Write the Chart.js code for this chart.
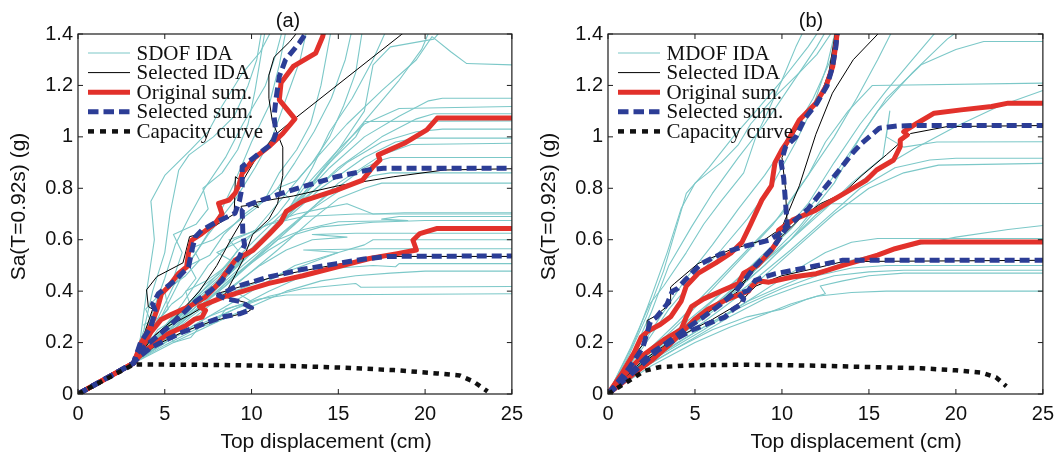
<!DOCTYPE html>
<html>
<head>
<meta charset="utf-8">
<script src="https://cdn.jsdelivr.net/npm/chart.js@4.4.1/dist/chart.umd.min.js"></script>
<style>
  html, body { margin:0; padding:0; background:#ffffff; }
  #wrap { position:relative; width:1062px; height:454px; overflow:hidden; background:#fff; }
  canvas { position:absolute; top:0; }
  #cA { left:0; }
  #cB { left:531px; }
</style>
</head>
<body>
<div id="wrap">
  <canvas id="cA" width="531" height="454"></canvas>
  <canvas id="cB" width="531" height="454"></canvas>
</div>
<script>
// ---------------- axis ticks & labels ----------------
const xTicks = [0, 5, 10, 15, 20, 25];
const xTickLabels = ['0', '5', '10', '15', '20', '25'];
const yTicks = [0, 0.2, 0.4, 0.6, 0.8, 1.0, 1.2, 1.4];
const yTickLabels = ['0', '0.2', '0.4', '0.6', '0.8', '1', '1.2', '1.4'];
const xAxisTitle = 'Top displacement (cm)';
const yAxisTitle = 'Sa(T=0.92s) (g)';
const panelTitles = ['(a)', '(b)'];
const legendLabelsA = ['SDOF IDA', 'Selected IDA', 'Original sum.', 'Selected sum.', 'Capacity curve'];
const legendLabelsB = ['MDOF IDA', 'Selected IDA', 'Original sum.', 'Selected sum.', 'Capacity curve'];

// ---------------- panel (a): SDOF ----------------
const sdofIda = [
  [[0,0],[3.2,0.12],[3.6,0.22],[4.0,0.42],[4.4,0.6],[4.2,0.75],[5.0,0.85],[6.5,0.95],[7.5,1.02],[8.3,1.12],[9.5,1.25],[10.5,1.33],[11.2,1.42]],
  [[0,0],[3.2,0.12],[3.8,0.25],[4.3,0.4],[5.0,0.55],[5.3,0.7],[5.8,0.87],[6.4,0.93],[7.8,1.0],[9.0,1.08],[9.8,1.2],[10.3,1.3],[10.6,1.42]],
  [[0,0],[3.2,0.12],[4.2,0.3],[5.0,0.45],[5.6,0.58],[6.5,0.7],[7.3,0.8],[8.5,0.92],[9.5,1.05],[10.8,1.2],[11.4,1.32],[11.8,1.42]],
  [[0,0],[3.2,0.12],[4.5,0.28],[5.5,0.42],[6.8,0.55],[8.0,0.68],[9.0,0.82],[10.0,0.98],[11.0,1.12],[11.6,1.28],[12.0,1.42]],
  [[0,0],[3.2,0.12],[4.8,0.3],[6.3,0.5],[7.5,0.62],[9.0,0.75],[10.2,0.88],[11.2,1.0],[12.0,1.15],[12.8,1.3],[13.2,1.42]],
  [[0,0],[3.2,0.12],[5.2,0.27],[7.5,0.4],[10,0.55],[12,0.7],[13.5,0.88],[14.5,1.02],[15.8,1.15],[17,1.3],[17.8,1.42]],
  [[0,0],[3.2,0.12],[5.5,0.28],[8,0.42],[10.5,0.58],[12.5,0.72],[14,0.86],[15.5,0.98],[17,1.1],[18.5,1.22],[19.8,1.34],[20.3,1.42]],
  [[0,0],[3.2,0.12],[5,0.26],[7,0.38],[9,0.5],[11,0.62],[13,0.8],[15,0.95],[16.5,1.1],[17,1.28],[18,1.35],[20.5,1.38],[21,1.42]],
  [[0,0],[3.2,0.12],[3.8,0.2],[4.2,0.28],[3.9,0.33],[4.6,0.38],[5.5,0.45],[6,0.55],[5.5,0.62],[6.8,0.66],[7.5,0.72],[7.2,0.8],[8.3,0.86],[9.2,0.95],[9.8,1.05],[10.2,1.18],[10.5,1.3],[10.8,1.42]],
  [[0,0],[3.2,0.12],[4.1,0.2],[4.8,0.24],[5.6,0.3],[6.5,0.36],[7.2,0.42],[8.2,0.47],[8.8,0.52],[8.0,0.55],[9.5,0.6],[10.5,0.64],[11.5,0.7],[12.2,0.76],[11.5,0.8],[12.6,0.83],[13.5,0.9],[14.5,1.0],[15.3,1.12],[16,1.25],[16.4,1.42]],
  [[0,0],[3.2,0.12],[3.9,0.18],[4.2,0.22],[5.3,0.24],[5.5,0.2],[6.5,0.22],[7.0,0.26],[8.0,0.28],[8.5,0.33],[10.0,0.36],[9.0,0.4],[11.0,0.45],[13,0.5],[15,0.55],[16.5,0.58],[17,0.6],[25,0.6]],
  [[0,0],[3.2,0.12],[3.7,0.2],[4.4,0.27],[5.2,0.33],[5.0,0.4],[6.2,0.46],[7.0,0.52],[6.6,0.57],[7.8,0.6],[9.0,0.66],[10.2,0.72],[11.5,0.8],[12.5,0.9],[13.6,1.02],[14.6,1.15],[15.4,1.3],[15.8,1.42]],
  [[0,0],[3.2,0.12],[4.0,0.19],[4.6,0.25],[5.8,0.3],[6.5,0.34],[6.2,0.4],[7.4,0.44],[8.6,0.5],[9.2,0.56],[8.7,0.6],[10,0.63],[11.3,0.67],[12.6,0.7],[14,0.72],[15.5,0.74],[17.0,0.7],[18.8,0.705],[25,0.705]],
  [[0,0],[3.2,0.12],[3.5,0.17],[4.0,0.22],[3.8,0.27],[4.8,0.3],[5.4,0.35],[6.0,0.38],[6.8,0.45],[6.4,0.5],[7.6,0.54],[8.4,0.62],[9.6,0.7],[10.8,0.76],[11.6,0.86],[12.6,0.95],[13.4,1.05],[14.0,1.2],[14.6,1.42]],
  [[0,0],[3.2,0.12],[5.8,0.3],[8.5,0.5],[11,0.7],[13.5,0.9],[15.5,1.05],[17.5,1.18],[19.5,1.3],[20.4,1.39],[21.5,1.33],[22.4,1.285],[25,1.28]],
  [[0,0],[3.2,0.12],[6,0.3],[9,0.5],[12,0.7],[14.5,0.88],[16.5,1.0],[18.5,1.08],[20.2,1.14],[21,1.15],[25,1.15]],
  [[0,0],[3.2,0.12],[5.5,0.3],[8,0.45],[10.5,0.62],[13,0.78],[15,0.95],[16.5,1.05],[18.5,1.11],[25,1.118]],
  [[0,0],[3.2,0.12],[6,0.3],[9.5,0.52],[12.5,0.72],[15,0.88],[17.5,1.0],[19.5,1.07],[20.5,1.09],[25,1.09]],
  [[0,0],[3.2,0.12],[5,0.25],[7.5,0.4],[10,0.56],[12.5,0.74],[14.5,0.9],[16,1.0],[16.5,1.06],[25,1.062]],
  [[0,0],[3.2,0.12],[6.5,0.32],[10,0.55],[13,0.76],[15.5,0.9],[17.5,0.98],[19.5,1.02],[21,1.03],[25,1.03]],
  [[0,0],[3.2,0.12],[5.5,0.28],[8.5,0.46],[11.5,0.65],[14,0.8],[16.5,0.92],[18.3,0.98],[19.5,0.995],[25,0.995]],
  [[0,0],[3.2,0.12],[6,0.28],[9,0.45],[12.5,0.66],[15,0.82],[17.5,0.93],[19.2,0.97],[25,0.975]],
  [[0,0],[3.2,0.12],[5,0.24],[7,0.35],[9.5,0.5],[12,0.64],[14.5,0.78],[16.5,0.88],[17.5,0.91],[18,0.92],[25,0.92]],
  [[0,0],[3.2,0.12],[5.5,0.26],[8.5,0.42],[11,0.58],[13.5,0.72],[15.5,0.81],[17,0.85],[18,0.86],[25,0.86]],
  [[0,0],[3.2,0.12],[6,0.26],[9,0.42],[11.5,0.56],[13.5,0.68],[15,0.76],[16.5,0.8],[17.5,0.82],[25,0.82]],
  [[0,0],[3.2,0.12],[4.5,0.22],[6,0.35],[7.5,0.5],[9,0.6],[11,0.66],[13,0.69],[16,0.7],[18.8,0.7],[25,0.7]],
  [[0,0],[3.2,0.12],[5,0.22],[7,0.34],[9,0.46],[11.5,0.6],[13,0.64],[15,0.67],[19,0.675],[17.5,0.68],[18.5,0.69],[25,0.69]],
  [[0,0],[3.2,0.12],[5,0.22],[7,0.34],[9,0.46],[11,0.56],[12.5,0.62],[14,0.65],[17,0.668],[20,0.675],[25,0.675]],
  [[0,0],[3.2,0.12],[4.8,0.2],[6.5,0.3],[8.5,0.4],[10.5,0.5],[12,0.56],[13.5,0.6],[15.5,0.61],[13.5,0.62],[16,0.625],[25,0.625]],
  [[0,0],[3.2,0.12],[5.5,0.22],[8,0.32],[10.5,0.42],[12.5,0.5],[14,0.53],[15,0.55],[13,0.56],[17,0.565],[25,0.565]],
  [[0,0],[3.2,0.12],[5,0.19],[7,0.26],[9,0.33],[11,0.4],[13,0.46],[15,0.49],[17,0.5],[18.3,0.495],[18.5,0.507],[25,0.507]],
  [[0,0],[3.2,0.12],[5.5,0.2],[8,0.28],[10,0.34],[12,0.4],[14,0.44],[16,0.46],[18,0.47],[20,0.478],[25,0.478]],
  [[0,0],[3.2,0.12],[5,0.2],[7,0.27],[9,0.33],[11,0.38],[13,0.41],[16,0.43],[16.3,0.415],[25,0.418]],
  [[0,0],[3.2,0.12],[4.5,0.18],[6,0.24],[7.5,0.3],[9,0.34],[10.5,0.37],[12,0.385],[25,0.39]]
];
const selectedIdaA = [
  [[0,0],[3.2,0.12],[3.9,0.25],[4.3,0.33],[4.05,0.34],[3.95,0.405],[4.55,0.457],[6.05,0.51],[6.43,0.612],[7.2,0.625],[9.0,0.70],[9.07,0.845],[9.46,0.825],[10.2,0.91],[11.4,1.01],[12.4,1.066],[19.05,1.42]],
  [[0,0],[3.2,0.12],[4.0,0.2],[4.8,0.25],[6.5,0.31],[8.5,0.39],[9.5,0.52],[10.06,0.62],[11.0,0.68],[11.5,0.74],[11.8,0.85],[11.8,0.96],[11.2,1.06],[11.0,1.15],[11.0,1.24],[11.3,1.31],[12.2,1.37],[12.8,1.42]],
  [[0,0],[3.2,0.12],[4.3,0.22],[5.5,0.29],[7.0,0.4],[8.0,0.5],[8.8,0.6],[9.5,0.68],[9.4,0.73],[10.0,0.735],[10.4,0.725],[10.2,0.745],[12.4,0.77],[15,0.81],[18.2,0.845],[21.1,0.871],[25,0.876]],
  [[0,0],[3.2,0.12],[4.5,0.19],[6.0,0.24],[7.6,0.28],[9.0,0.305],[9.8,0.32],[10.1,0.335],[9.7,0.355],[8.3,0.38],[8.0,0.39],[9.5,0.42],[11.5,0.46],[15,0.505],[18,0.535],[25,0.535]]
];
const originalSumA = [
  [[0,0],[3.2,0.12],[3.7,0.16],[4.5,0.2],[5.2,0.234],[6.2,0.265],[6.7,0.29],[7.15,0.299],[7.35,0.325],[7.0,0.34],[7.4,0.35],[7.9,0.364],[8.5,0.38],[9.05,0.39],[11.0,0.43],[12.95,0.46],[14.9,0.494],[16.8,0.527],[18.4,0.546],[19.5,0.56],[19.3,0.598],[19.7,0.624],[20.7,0.644],[25,0.644]],
  [[0,0],[3.2,0.12],[3.6,0.17],[4.2,0.24],[4.8,0.29],[5.4,0.31],[6.4,0.34],[7.35,0.377],[8.1,0.43],[8.5,0.47],[9.05,0.52],[10.1,0.56],[11.0,0.62],[11.7,0.67],[12.0,0.71],[12.95,0.75],[14.9,0.793],[16.4,0.832],[17.0,0.884],[17.4,0.91],[17.3,0.93],[18.8,0.975],[20.1,1.027],[20.7,1.073],[25,1.073]],
  [[0,0],[3.2,0.12],[3.65,0.2],[4.0,0.24],[4.33,0.286],[4.6,0.338],[4.81,0.39],[5.2,0.416],[5.78,0.468],[6.26,0.494],[6.36,0.546],[6.55,0.598],[7.13,0.624],[7.9,0.663],[8.3,0.70],[8.1,0.741],[8.7,0.754],[9.05,0.78],[9.27,0.812],[9.46,0.858],[10.2,0.92],[11.0,0.962],[11.8,1.013],[12.5,1.07],[11.6,1.144],[11.7,1.21],[12.4,1.274],[13.7,1.326],[14.1,1.39],[14.2,1.42]]
];
const selectedSumA = [
  [[0,0],[3.2,0.12],[3.49,0.143],[4.2,0.18],[5.0,0.208],[6.0,0.24],[6.77,0.26],[7.5,0.28],[8.3,0.299],[9.3,0.312],[9.87,0.325],[10.0,0.335],[9.3,0.36],[8.5,0.371],[8.1,0.383],[9.05,0.416],[11.0,0.455],[12.95,0.485],[14.9,0.507],[16.5,0.525],[17.8,0.535],[25,0.537]],
  [[0,0],[3.2,0.12],[3.37,0.157],[4.3,0.21],[5.2,0.26],[6.0,0.31],[6.77,0.36],[7.6,0.4],[8.3,0.442],[8.8,0.49],[9.3,0.533],[9.6,0.58],[9.5,0.62],[9.46,0.715],[9.8,0.735],[10.2,0.745],[11.5,0.775],[12.95,0.806],[14.9,0.845],[16.8,0.872],[17.6,0.878],[25,0.878]],
  [[0,0],[3.2,0.12],[3.6,0.2],[4.2,0.26],[4.44,0.325],[4.3,0.35],[4.63,0.39],[5.6,0.442],[6.37,0.494],[6.56,0.559],[6.76,0.611],[7.13,0.637],[8.0,0.67],[9.05,0.703],[9.3,0.75],[9.46,0.806],[9.46,0.884],[10.2,0.923],[11.2,0.975],[11.4,1.014],[11.3,1.08],[11.4,1.144],[11.6,1.235],[11.96,1.30],[12.75,1.365],[13.3,1.42]]
];
const capacityA = [[0,0],[3.2,0.115],[8,0.113],[12.75,0.108],[15,0.103],[18.2,0.093],[20.7,0.08],[22,0.072],[22.8,0.048],[23.6,0.01]];

// ---------------- panel (b): MDOF ----------------
const mdofIda = [
  [[0,0],[1.2,0.15],[2.2,0.3],[3.2,0.48],[4.5,0.78],[5.8,0.88],[7.2,1.0],[8.5,1.1],[10,1.22],[11.5,1.35],[12.2,1.42]],
  [[0,0],[1.5,0.17],[2.5,0.32],[3.5,0.5],[4.8,0.65],[6,0.78],[7.5,0.92],[9,1.05],[10.5,1.2],[12,1.35],[12.6,1.42]],
  [[0,0],[1.6,0.15],[3,0.3],[4.5,0.45],[6,0.58],[7.5,0.72],[9,0.85],[10.5,1.0],[11.8,1.15],[12.8,1.3],[13.4,1.42]],
  [[0,0],[2,0.18],[3.5,0.33],[5,0.45],[6.5,0.56],[8,0.68],[9.5,0.82],[10.8,0.98],[11.8,1.12],[12.6,1.28],[13.1,1.42]],
  [[0,0],[2,0.15],[4,0.28],[6,0.42],[8,0.56],[10,0.7],[11.5,0.85],[13,1.0],[14.3,1.15],[15.5,1.3],[16.4,1.42]],
  [[0,0],[2,0.14],[4.5,0.28],[7,0.42],[9.5,0.58],[11.5,0.74],[13,0.9],[14.5,1.05],[16,1.18],[17.5,1.3],[19,1.42]],
  [[0,0],[2.2,0.14],[5,0.3],[8,0.48],[10.5,0.64],[12.5,0.8],[14,0.95],[15.5,1.1],[17.5,1.25],[19.5,1.38],[20.3,1.42]],
  [[0,0],[2,0.13],[5,0.28],[8,0.45],[11,0.65],[13,0.82],[14.5,1.0],[16,1.15],[18,1.28],[20,1.34],[21.6,1.371],[25,1.371]],
  [[0,0],[2.2,0.13],[5.5,0.3],[9,0.5],[12,0.7],[15,0.85],[17.5,0.95],[20,1.04],[22.5,1.12],[25,1.18]],
  [[0,0],[2,0.14],[4.5,0.3],[7,0.48],[9.5,0.66],[11.5,0.85],[12.5,0.98],[13.8,1.1],[15.2,1.2],[25,1.209]],
  [[0,0],[2,0.12],[5,0.28],[8,0.46],[10.5,0.6],[12.5,0.72],[14,0.82],[15.8,0.92],[16.2,1.1],[16.0,1.0],[17,0.96],[18.9,0.98],[25,0.981]],
  [[0,0],[2.2,0.13],[5,0.27],[8,0.42],[10.5,0.56],[12.5,0.68],[14.5,0.8],[16.5,0.88],[18.5,0.91],[20,0.917],[25,0.917]],
  [[0,0],[2.5,0.14],[5.5,0.28],[8.5,0.43],[11,0.58],[13,0.7],[15,0.8],[17,0.86],[19,0.89],[25,0.897]],
  [[0,0],[2,0.12],[4.5,0.25],[7,0.38],[9,0.5],[10.5,0.6],[11.5,0.68],[12.3,0.74],[25,0.741]],
  [[0,0],[2.2,0.12],[5,0.24],[8,0.36],[11,0.45],[14,0.52],[17,0.57],[20,0.61],[23,0.64],[25,0.655]],
  [[0,0],[2.5,0.13],[5.5,0.25],[8,0.36],[10.5,0.47],[12.5,0.55],[14,0.59],[15.5,0.605],[25,0.605]],
  [[0,0],[2,0.11],[4,0.2],[6,0.28],[8,0.35],[10,0.41],[12,0.46],[14,0.49],[16,0.5],[25,0.5]],
  [[0,0],[2.2,0.11],[4.5,0.2],[7,0.3],[9,0.37],[11,0.42],[13,0.46],[15,0.475],[17,0.481],[25,0.481]],
  [[0,0],[2.5,0.11],[5,0.2],[7,0.26],[9,0.31],[10.5,0.35],[12,0.38],[14,0.395],[16,0.4],[25,0.4]],
  [[0,0],[2,0.1],[4,0.18],[6,0.25],[8,0.3],[10,0.33],[11.5,0.37],[12.5,0.39],[12.2,0.42],[13.5,0.44],[15,0.46],[17,0.47],[25,0.47]],
  [[0,0],[1.5,0.2],[2.5,0.38],[3.4,0.55],[4.2,0.72],[5.0,0.82],[6.5,0.9],[7.5,0.97],[8.2,1.05],[9.5,1.15],[11,1.25],[12,1.32],[13,1.42]],
  [[0,0],[1.3,0.18],[2.4,0.35],[3.2,0.42],[4.5,0.55],[5.5,0.66],[6.5,0.75],[7.8,0.86],[8.5,1.0],[9.2,1.1],[10,1.22],[10.8,1.35],[11.3,1.42]]
];
const selectedIdaB = [
  [[0,0],[1.5,0.15],[2.1,0.2],[2.25,0.234],[2.25,0.286],[2.64,0.3],[3.6,0.351],[3.6,0.416],[3.81,0.429],[5.17,0.507],[7,0.56],[9,0.6],[10.3,0.66],[10.2,0.8],[10,0.92],[10.4,0.98],[11.2,1.07],[12.1,1.14],[12.7,1.25],[13.1,1.42]],
  [[0,0],[2,0.13],[3.5,0.2],[4.5,0.26],[6,0.33],[8,0.45],[9.5,0.57],[10.2,0.68],[11.0,0.81],[11.95,1.01],[12.9,1.17],[14.1,1.3],[15.8,1.42]],
  [[0,0],[2,0.14],[4,0.24],[6,0.33],[7.5,0.4],[8.5,0.5],[9.5,0.58],[11,0.68],[12.2,0.74],[13.5,0.78],[14.6,0.85],[16,0.93],[17,0.99],[17.4,1.013],[19.5,1.04],[25,1.044]],
  [[0,0],[2,0.12],[4,0.22],[6,0.29],[7.5,0.35],[8.5,0.42],[10,0.46],[12,0.49],[13.5,0.515],[25,0.52]]
];
const originalSumB = [
  [[0,0],[1.5,0.08],[2.5,0.13],[3.5,0.19],[4.39,0.25],[4.98,0.29],[5.75,0.33],[6.72,0.364],[7.5,0.385],[8.08,0.40],[8.27,0.42],[8.6,0.44],[9.25,0.435],[10.6,0.455],[11.97,0.468],[12.55,0.48],[13.5,0.5],[14.5,0.52],[15.5,0.54],[16.5,0.565],[17.97,0.591],[25,0.591]],
  [[0,0],[1.0,0.08],[2.0,0.15],[3.2,0.21],[4.2,0.25],[4.5,0.3],[4.8,0.34],[5.5,0.37],[6.5,0.4],[7.5,0.43],[7.8,0.47],[8.6,0.5],[9.4,0.56],[9.8,0.6],[9.8,0.637],[10.6,0.676],[11.95,0.715],[12.92,0.754],[13.9,0.793],[14.86,0.832],[15.44,0.871],[16.42,0.91],[16.8,0.962],[16.8,0.988],[17.2,1.007],[17.0,1.02],[17.77,1.053],[18.75,1.092],[20.3,1.105],[22.05,1.118],[23.0,1.131],[25,1.131]],
  [[0,0],[0.8,0.08],[1.5,0.16],[1.9,0.22],[2.3,0.245],[3.0,0.27],[3.6,0.3],[4.2,0.36],[4.5,0.42],[5.2,0.47],[6.2,0.51],[7.1,0.55],[7.7,0.59],[8.2,0.66],[8.84,0.754],[9.4,0.81],[9.6,0.9],[10.0,0.95],[10.3,0.98],[11.0,1.066],[11.95,1.131],[12.53,1.196],[12.92,1.274],[13.11,1.365],[13.2,1.42]]
];
const selectedSumB = [
  [[0,0],[1.4,0.08],[2.84,0.169],[3.8,0.21],[4.78,0.247],[5.8,0.275],[6.72,0.299],[7.2,0.33],[7.69,0.351],[7.8,0.37],[7.5,0.39],[8.08,0.403],[8.47,0.442],[9.0,0.455],[9.64,0.468],[11.6,0.494],[12.55,0.507],[13.5,0.52],[25,0.52]],
  [[0,0],[1.4,0.09],[2.5,0.16],[3.4,0.2],[4.4,0.25],[5.5,0.3],[6.5,0.35],[7.2,0.39],[7.7,0.43],[8.5,0.5],[9.5,0.57],[10.3,0.65],[11.5,0.72],[12.2,0.78],[13.3,0.871],[14.1,0.94],[14.6,0.976],[15.6,1.034],[16.6,1.042],[17.5,1.044],[25,1.044]],
  [[0,0],[1.2,0.1],[2.0,0.18],[2.43,0.28],[2.8,0.3],[3.4,0.35],[3.7,0.4],[4.0,0.41],[4.39,0.44],[5.36,0.507],[6.5,0.545],[7.7,0.572],[9.25,0.598],[10.0,0.63],[10.3,0.66],[10.2,0.75],[10.1,0.84],[9.95,0.9],[10.2,0.96],[10.8,1.0],[11.3,1.07],[12.0,1.13],[12.6,1.2],[12.9,1.27],[13.1,1.35],[13.2,1.42]]
];
const capacityB = [[0,0],[2.1,0.09],[3,0.105],[5,0.112],[8,0.114],[12,0.11],[15,0.105],[18,0.1],[20,0.092],[21.5,0.083],[22.3,0.065],[22.9,0.03]];

// ---------------- styles ----------------
const C_IDA = '#7cc8c8', C_SEL = '#000000', C_ORIG = '#e2312b', C_SSUM = '#2c3d96', C_CAP = '#111111';
const FONT_SANS = '"Liberation Sans", Arial, Helvetica, sans-serif';
const FONT_SERIF = '"Liberation Serif", "Times New Roman", serif';

function toXY(arr) { return arr.map(p => ({ x: p[0], y: p[1] })); }

function lineSet(curve, color, width, order, dash) {
  return {
    data: toXY(curve), borderColor: color, backgroundColor: color, borderWidth: width,
    borderDash: dash || [], pointRadius: 0, pointHoverRadius: 0, tension: 0, fill: false,
    order: order, clip: 0, borderJoinStyle: 'round', borderCapStyle: 'butt'
  };
}

const decorPlugin = {
  id: 'decor',
  afterDatasetsDraw(chart, args, o) {
    const { ctx, chartArea: a, scales: { x, y } } = chart;
    ctx.save();
    ctx.strokeStyle = '#1c1c1c';
    ctx.lineWidth = 1.2;
    ctx.strokeRect(a.left, a.top, a.right - a.left, a.bottom - a.top);
    ctx.lineWidth = 1;
    ctx.beginPath();
    x.ticks.forEach(t => {
      const px = x.getPixelForValue(t.value);
      ctx.moveTo(px, a.bottom); ctx.lineTo(px, a.bottom - 5);
      ctx.moveTo(px, a.top); ctx.lineTo(px, a.top + 5);
    });
    y.ticks.forEach(t => {
      const py = y.getPixelForValue(t.value);
      ctx.moveTo(a.left, py); ctx.lineTo(a.left + 5, py);
      ctx.moveTo(a.right, py); ctx.lineTo(a.right - 5, py);
    });
    ctx.stroke();

    const styles = [
      { c: C_IDA, w: 1.2, d: [] },
      { c: C_SEL, w: 1, d: [] },
      { c: C_ORIG, w: 5, d: [] },
      { c: C_SSUM, w: 5, d: [10.5, 5] },
      { c: C_CAP, w: 4.5, d: [6, 6] }
    ];
    ctx.font = '21px ' + FONT_SERIF;
    ctx.textAlign = 'left';
    ctx.textBaseline = 'middle';
    o.labels.forEach((lab, i) => {
      const ry = a.top + 19 + 19.6 * i;
      const s = styles[i];
      ctx.beginPath();
      ctx.setLineDash(s.d);
      ctx.lineCap = 'butt';
      ctx.strokeStyle = s.c;
      ctx.lineWidth = s.w;
      ctx.moveTo(a.left + 10, ry);
      ctx.lineTo(a.left + 52, ry);
      ctx.stroke();
      ctx.setLineDash([]);
      ctx.fillStyle = '#111';
      ctx.fillText(lab, a.left + 58.5, ry + 1);
    });
    ctx.restore();
  },
  afterDraw(chart, args, o) {
    const { ctx, chartArea: a } = chart;
    ctx.save();
    ctx.fillStyle = '#111';
    ctx.font = '20px ' + FONT_SANS;
    ctx.textAlign = 'center';
    ctx.textBaseline = 'alphabetic';
    ctx.fillText(o.title, a.left + o.titleDx, 27);
    ctx.font = '21px ' + FONT_SANS;
    ctx.fillText(xAxisTitle, a.left + 248, 448);
    ctx.translate(a.left - 58.5, a.top + 172.5);
    ctx.rotate(-Math.PI / 2);
    ctx.textBaseline = 'middle';
    ctx.fillText(yAxisTitle, 0, 0);
    ctx.restore();
  }
};

function makeChart(id, d) {
  const datasets = [];
  d.ida.forEach(c => datasets.push(lineSet(c, C_IDA, 1.1, 5)));
  d.sel.forEach(c => datasets.push(lineSet(c, C_SEL, 1, 4)));
  d.orig.forEach(c => datasets.push(lineSet(c, C_ORIG, 5, 3)));
  d.ssum.forEach(c => datasets.push(lineSet(c, C_SSUM, 5, 2, [10, 5])));
  datasets.push(lineSet(d.cap, C_CAP, 4.5, 1, [5.5, 5.5]));

  return new Chart(document.getElementById(id), {
    type: 'line',
    data: { datasets },
    plugins: [decorPlugin],
    options: {
      responsive: false, animation: false, devicePixelRatio: 1, events: [],
      layout: { padding: { left: 0, right: d.rightPad, top: 34, bottom: 0 } },
      plugins: {
        legend: { display: false }, tooltip: { enabled: false }, title: { display: false },
        decor: { labels: d.legend, title: d.title, titleDx: d.titleDx }
      },
      scales: {
        x: {
          type: 'linear', min: 0, max: 25,
          afterBuildTicks: s => { s.ticks = xTicks.map(v => ({ value: v })); },
          afterFit: s => { s.height = 60; },
          grid: { display: false, drawTicks: false }, border: { display: false },
          ticks: {
            autoSkip: false, maxRotation: 0, padding: 8, color: '#111',
            font: { size: 20, family: FONT_SANS },
            callback: (v, i) => xTickLabels[i]
          }
        },
        y: {
          type: 'linear', min: 0, max: 1.4,
          afterBuildTicks: s => { s.ticks = yTicks.map(v => ({ value: v })); },
          afterFit: s => { s.width = d.leftW; },
          grid: { display: false, drawTicks: false }, border: { display: false },
          ticks: {
            autoSkip: false, padding: 5, color: '#111',
            font: { size: 20, family: FONT_SANS },
            callback: (v, i) => yTickLabels[i]
          }
        }
      }
    }
  });
}

makeChart('cA', { ida: sdofIda, sel: selectedIdaA, orig: originalSumA, ssum: selectedSumA, cap: capacityA,
  legend: legendLabelsA, title: panelTitles[0], titleDx: 210, leftW: 78, rightPad: 16.5 });
makeChart('cB', { ida: mdofIda, sel: selectedIdaB, orig: originalSumB, ssum: selectedSumB, cap: capacityB,
  legend: legendLabelsB, title: panelTitles[1], titleDx: 203, leftW: 77, rightPad: 17.4 });
</script>
</body>
</html>
